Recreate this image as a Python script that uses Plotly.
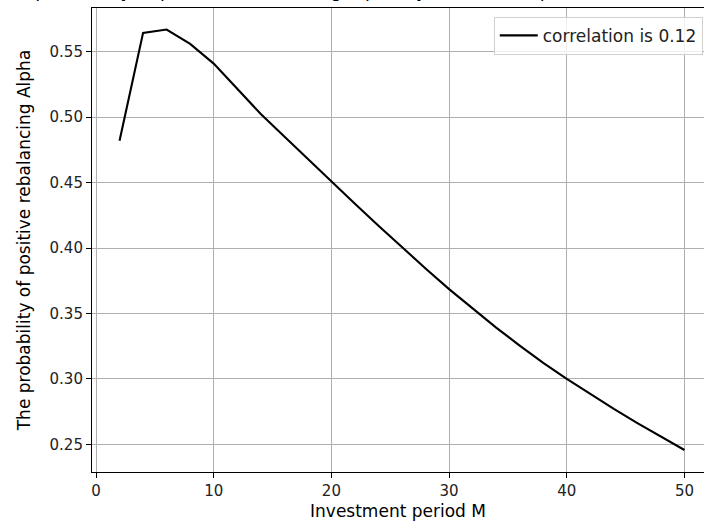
import plotly.graph_objects as go

period_m = [2, 4, 6, 8, 10, 12, 14, 16, 18, 20, 22, 24, 26, 28, 30,
            32, 34, 36, 38, 40, 42, 44, 46, 48, 50]
prob_alpha = [0.482, 0.5645, 0.567, 0.556, 0.541, 0.5215, 0.5025, 0.4853, 0.468, 0.451,
              0.4339, 0.4171, 0.4006, 0.3844, 0.3686, 0.3536, 0.3392, 0.3254, 0.3122, 0.3000,
              0.2882, 0.2770, 0.2662, 0.2558, 0.2456]
series_name = "correlation is 0.12"
x_ticks = [0, 10, 20, 30, 40, 50]
y_ticks = [0.25, 0.30, 0.35, 0.40, 0.45, 0.50, 0.55]
title_text = "The probability of positive rebalancing Alpha by investment period M (correlation is 0.12)"

FONT = "DejaVu Sans"

fig = go.Figure()
fig.add_trace(go.Scatter(x=period_m, y=prob_alpha, mode="lines", name=series_name,
                         line=dict(color="black", width=2.1)))

fig.update_layout(
    width=704, height=526,
    margin=dict(l=92, r=0, t=8, b=54, autoexpand=False),
    paper_bgcolor="white", plot_bgcolor="white",
    font=dict(family=FONT, size=15, color="black"),
    showlegend=True,
    legend=dict(x=0.998, xanchor="right", y=0.981, yanchor="top",
                bgcolor="rgba(255,255,255,0.8)", bordercolor="#d0d0d0", borderwidth=1,
                itemwidth=38,
                font=dict(family=FONT, size=17, color="#222222")),
)

fig.add_annotation(text=title_text, xref="paper", yref="paper", x=0.5, y=1 + 5 / 464,
                   xanchor="center", yanchor="bottom", showarrow=False,
                   font=dict(family=FONT, size=18, color="black"))

fig.update_xaxes(range=[-0.34, 51.66], tickvals=x_ticks, ticktext=[str(v) for v in x_ticks],
                 showgrid=True, gridcolor="#b0b0b0", gridwidth=1.1,
                 showline=True, linecolor="black", linewidth=1.1, mirror=True,
                 ticks="outside", ticklen=5, tickwidth=1.1, tickcolor="black",
                 zeroline=False, automargin=False,
                 title=dict(text="Investment period M", standoff=6,
                            font=dict(family=FONT, size=17)),
                 tickfont=dict(family=FONT, size=15, color="#222222"))
fig.update_yaxes(range=[0.2288, 0.5835], tickvals=y_ticks,
                 ticktext=["%.2f" % v for v in y_ticks],
                 showgrid=True, gridcolor="#b0b0b0", gridwidth=1.1,
                 showline=True, linecolor="black", linewidth=1.1, mirror=False,
                 ticks="outside", ticklen=5, tickwidth=1.1, tickcolor="black",
                 zeroline=False, automargin=False,
                 title=dict(text="The probability of positive rebalancing Alpha", standoff=14,
                            font=dict(family=FONT, size=17)),
                 tickfont=dict(family=FONT, size=15, color="#222222"))

fig.write_html("out.html", config={"displayModeBar": False},
               post_script="document.body.style.margin='0px';")
